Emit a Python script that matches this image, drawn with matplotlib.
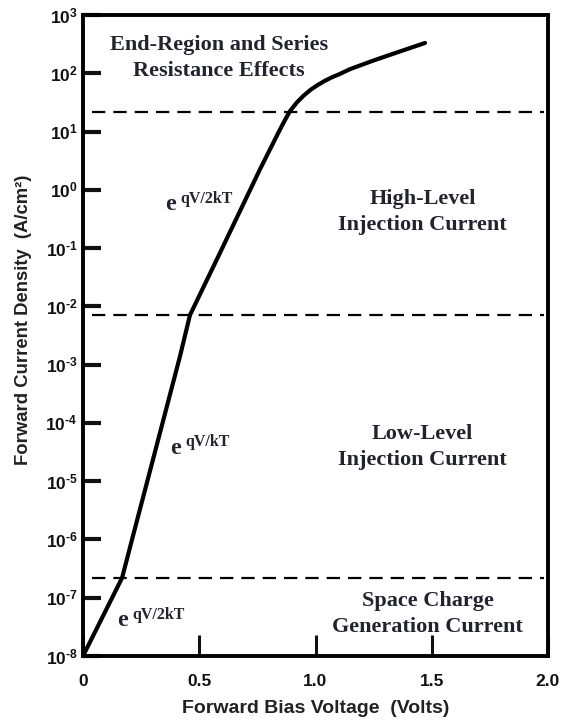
import numpy as np
import matplotlib
matplotlib.use("Agg")
import matplotlib.pyplot as plt
from matplotlib.ticker import FixedLocator, FuncFormatter

plt.rcParams['mathtext.fontset'] = 'custom'
plt.rcParams['mathtext.bf'] = 'Liberation Sans:bold'
plt.rcParams['mathtext.rm'] = 'Liberation Sans:bold'

# ---- data ----
voltage = [0.0, 0.168, 0.211, 0.417, 0.460, 0.581, 0.761, 0.839, 0.865, 0.890, 0.920,
           0.950, 0.980, 1.010, 1.040, 1.070, 1.100, 1.148, 1.250, 1.360, 1.471]
log_current = [-8.0, -6.66, -6.00, -2.86, -2.15, -1.15, 0.35, 0.97, 1.17, 1.35, 1.50,
               1.62, 1.72, 1.80, 1.87, 1.93, 1.98, 2.07, 2.22, 2.37, 2.52]
current = [10 ** v for v in log_current]

boundaries = [21.7, 7.1e-3, 2.2e-7]

x_ticks = [0.0, 0.5, 1.0, 1.5, 2.0]
x_tick_labels = ["0", "0.5", "1.0", "1.5", "2.0"]
y_exponents = [3, 2, 1, 0, -1, -2, -3, -4, -5, -6, -7, -8]

region_labels = ["End-Region and Series\nResistance Effects",
                 "High-Level\nInjection Current",
                 "Low-Level\nInjection Current",
                 "Space Charge\nGeneration Current"]
region_pos = [(0.585, 10 ** 2.27), (1.461, 10 ** -0.38), (1.461, 10 ** -4.41), (1.483, 10 ** -7.28)]

slope_labels = ["qV/2kT", "qV/kT", "qV/2kT"]
slope_pos = [(0.355, 10 ** -0.35), (0.375, 10 ** -4.53), (0.145, 10 ** -7.49)]


def sci_label(v, p):
    e = int(round(np.log10(v)))
    if e < 0:
        return r'$\mathbf{10^{\text{-}%d}}$' % (-e)
    return r'$\mathbf{10^{%d}}$' % e


# ---- figure ----
fig = plt.figure(figsize=(5.66, 7.22), dpi=100)
ax = fig.add_axes([83 / 566, 66 / 722, 465 / 566, 641 / 722])
ax.set_yscale('log')
ax.set_xlim(0, 2.0)
ax.set_ylim(1e-8, 1e3)

ax.plot(voltage, current, color='black', lw=3.0, solid_capstyle='round', solid_joinstyle='round')

for b in boundaries:
    ax.axhline(b, xmin=0.02, xmax=0.992, color='black', lw=1.6, dashes=(6, 3.6))

for s in ax.spines.values():
    s.set_linewidth(2.8)

ax.xaxis.set_major_locator(FixedLocator(x_ticks))
ax.set_xticklabels(x_tick_labels)
ax.yaxis.set_major_locator(FixedLocator([10.0 ** e for e in y_exponents]))
ax.yaxis.set_minor_locator(FixedLocator([]))
ax.yaxis.set_major_formatter(FuncFormatter(sci_label))

ax.tick_params(axis='y', direction='in', length=13, width=3, labelsize=12.5, pad=4, colors='#111111')
ax.tick_params(axis='x', direction='in', length=15, width=2.2, labelsize=12.5, pad=13, colors='#111111')
for t in ax.get_xticklabels():
    t.set_fontweight('bold')
    t.set_family('Liberation Sans')

ax.set_xlabel("Forward Bias Voltage  (Volts)", fontsize=14, fontweight='bold',
              family='Liberation Sans', color='#222222')
ax.xaxis.set_label_coords(0.5, -0.068)
ax.set_ylabel("Forward Current Density  (A/cm²)", fontsize=13.3, fontweight='bold',
              family='Liberation Sans', color='#222222')
ax.yaxis.set_label_coords(-0.11, 0.525)

tc = '#23232f'
for lab, (x, y) in zip(region_labels, region_pos):
    ax.text(x, y, lab, ha='center', va='center', fontsize=16, fontweight='bold',
            family='Liberation Serif', color=tc, linespacing=1.4)

for lab, (x, y) in zip(slope_labels, slope_pos):
    ax.text(x, y, "e", ha='left', va='baseline', fontsize=17.5, fontweight='bold',
            family='Liberation Serif', color=tc)
    ax.annotate(lab, xy=(x, y), xytext=(11, 5.5), textcoords='offset points',
                ha='left', va='baseline', fontsize=11.5, fontweight='bold',
                family='Liberation Serif', color=tc)

fig.savefig("out.png", dpi=100)
